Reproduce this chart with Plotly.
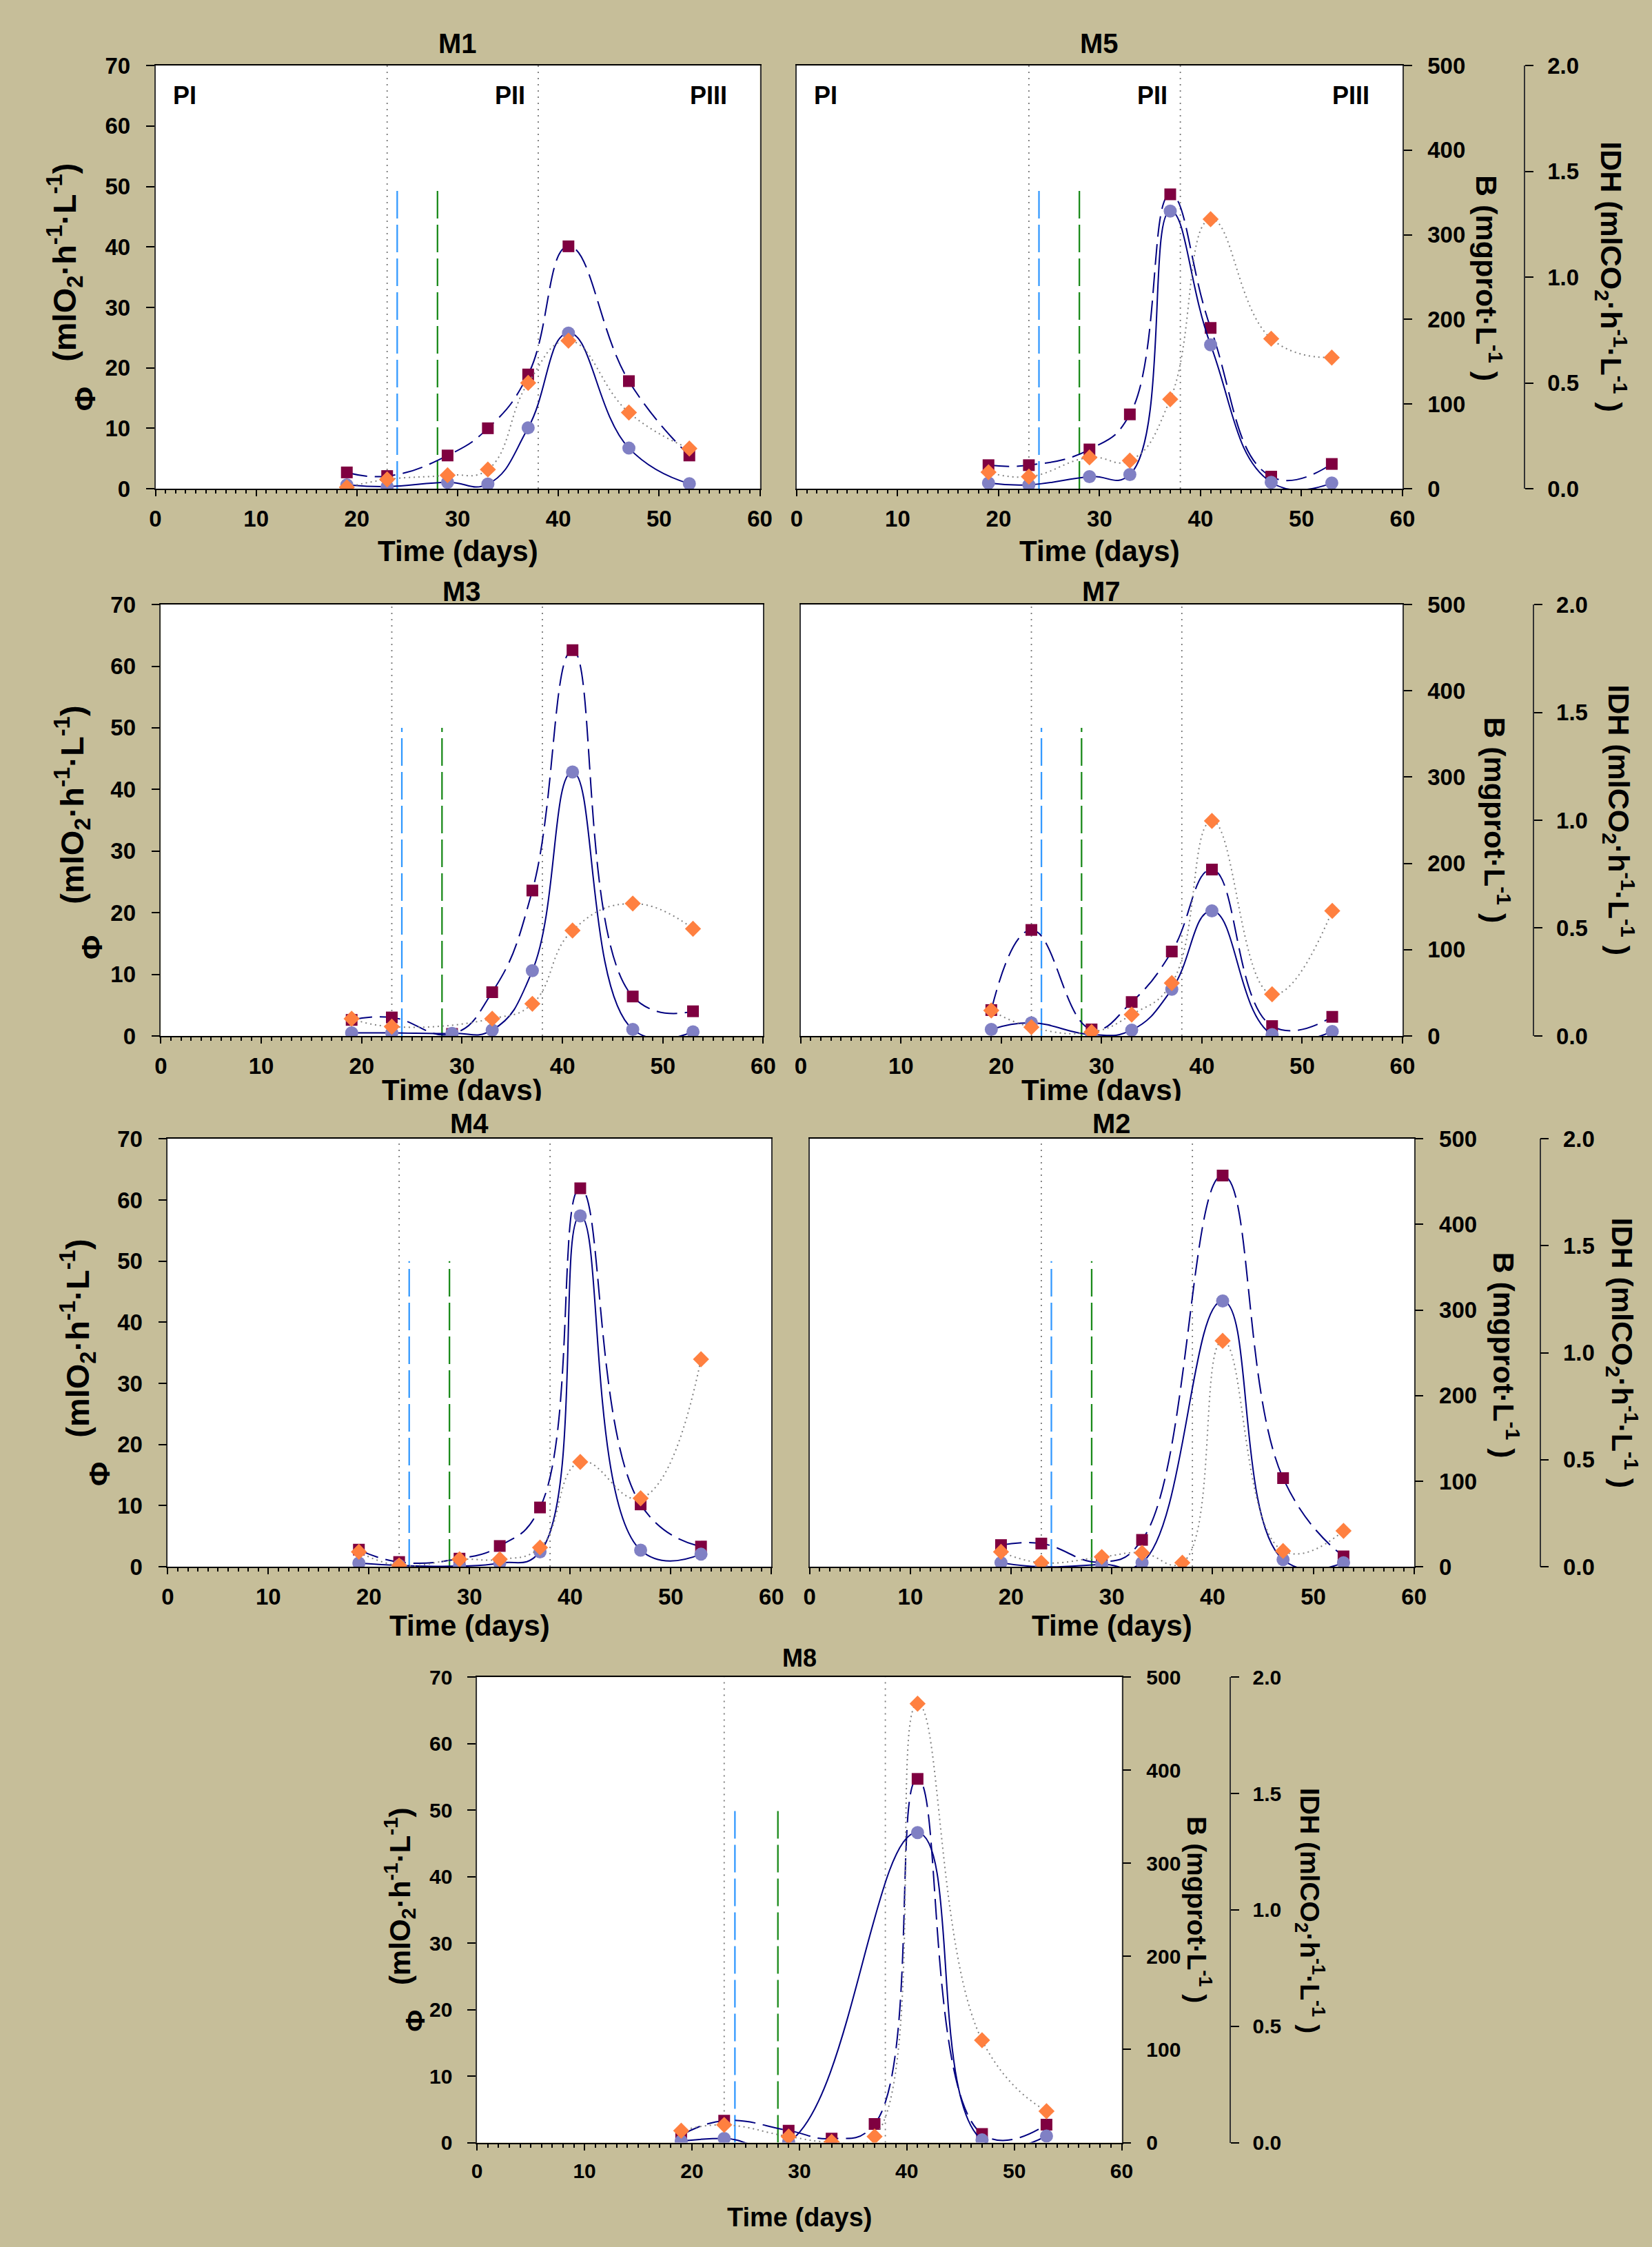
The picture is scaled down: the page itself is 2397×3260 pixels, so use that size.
import plotly.graph_objects as go

# ---------------- data ----------------
days = [19, 23, 29, 33, 37, 41, 47, 53]

M1_phi = [2.7, 2.1, 5.5, 10.0, 18.9, 40.1, 17.8, 5.5]
M1_B = [4.6, 2.5, 7.6, 5.5, 72, 184, 48, 5.9]
M1_IDH = [0.007, 0.044, 0.064, 0.091, 0.50, 0.70, 0.36, 0.19]

M5_phi = [3.9, 3.9, 6.5, 12.3, 48.7, 26.6, 2.0, 4.1]
M5_B = [6.7, 4.6, 14.3, 16.8, 328, 170, 7.6, 6.7]
M5_IDH = [0.078, 0.057, 0.148, 0.133, 0.423, 1.274, 0.709, 0.62]

M3_phi = [2.6, 3.0, 0.33, 7.1, 23.6, 62.6, 6.4, 4.0]
M3_B = [3.6, 3.6, 3.0, 6.8, 75.6, 306, 7.6, 4.8]
M3_IDH = [0.08, 0.043, None, 0.08, 0.149, 0.489, 0.614, 0.497]

M7_phi = [4.2, 17.2, 1.06, 5.5, 13.7, 27.0, 1.6, 3.1]
M7_B = [7.6, 15.1, 1.6, 6.8, 54.1, 144.9, 1.6, 5.2]
M7_IDH = [0.118, 0.041, 0.018, 0.099, 0.245, 0.997, 0.193, 0.58]

M4_phi = [2.8, 0.78, 1.33, 3.4, 9.7, 61.9, 10.2, 3.3]
M4_B = [4.3, 1.6, 0.8, 4.3, 17.4, 410, 19.4, 14.7]
M4_IDH = [0.07, 0.006, 0.035, 0.035, 0.09, 0.49, 0.32, 0.97]

M2_phi = [3.55, 3.8, 0.78, 4.4, None, 64.0, 14.5, 1.7]
M2_B = [4.8, 0.0, 2.8, 4.8, None, 310.6, 8.3, 4.8]
M2_IDH = [0.07, 0.019, 0.046, 0.065, 0.019, 1.056, 0.074, 0.168]

M8_phi = [1.1, 3.3, 1.8, 0.6, 2.8, 54.7, 1.3, 2.7]
M8_B = [1.6, 4.5, 0.7, None, None, 333, 2.9, 7.1]
M8_IDH = [0.051, 0.076, 0.026, 0.003, 0.026, 1.886, 0.44, 0.135]

phase_days = [23, 38]          # dotted phase boundaries
event_days = [24, 28]          # dashed event markers
event_top = 50
phase_labels = ["PI", "PII", "PIII"]
phase_label_x = [1.6, 35.2, 54.9]
phase_label_y = 65

x_ticks = [0, 10, 20, 30, 40, 50, 60]
phi_ticks = [0, 10, 20, 30, 40, 50, 60, 70]
B_ticks = [0, 100, 200, 300, 400, 500]
IDH_ticks = [0.0, 0.5, 1.0, 1.5, 2.0]

series = [
    ("M1", M1_phi, M1_B, M1_IDH),
    ("M5", M5_phi, M5_B, M5_IDH),
    ("M3", M3_phi, M3_B, M3_IDH),
    ("M7", M7_phi, M7_B, M7_IDH),
    ("M4", M4_phi, M4_B, M4_IDH),
    ("M2", M2_phi, M2_B, M2_IDH),
    ("M8", M8_phi, M8_B, M8_IDH),
]

# ---------------- layout geometry (pixels) ----------------
W, H = 2397, 3260
def fx(p): return p / W
def fy(p): return 1 - p / H

geom = {
    "M1": dict(box=(219, 78, 1106, 699), left=True, right=False, title_y=46, xt_y=790,
               unit=(86, 367), phi=(115, 567), phases=True, fs=1.0),
    "M5": dict(box=(1160, 78, 2049, 699), left=False, right=True, title_y=46, xt_y=790,
               idh_x=2228, Blab=(2176, 390), IDHlab=(2356, 388), phases=True, fs=1.0),
    "M3": dict(box=(227, 869, 1111, 1502), left=True, right=False, title_y=850, xt_y=1581,
               unit=(97, 1163), phi=(126, 1372), fs=1.0),
    "M7": dict(box=(1166, 869, 2049, 1502), left=False, right=True, title_y=850, xt_y=1581,
               idh_x=2241, Blab=(2188, 1185), IDHlab=(2367, 1185), fs=1.0),
    "M4": dict(box=(237, 1653, 1123, 2281), left=True, right=False, title_y=1631, xt_y=2367,
               unit=(105, 1946), phi=(136, 2145), fs=1.0),
    "M2": dict(box=(1179, 1653, 2066, 2281), left=False, right=True, title_y=1631, xt_y=2367,
               idh_x=2251, Blab=(2201, 1970), IDHlab=(2372, 1967), fs=1.0),
    "M8": dict(box=(691, 2443, 1637, 3126), left=True, right=True, title_y=2415, xt_y=3236,
               unit=(577, 2765), phi=(600, 2947), idh_x=1796, Blab=(1751, 2784),
               IDHlab=(1913, 2786), fs=0.9),
}
row2_clip_top, row2_clip_h = 1597, 15   # the original crops the 2nd-row axis titles here

BG = "#C6BE99"
FONT = "Liberation Sans, Arial, sans-serif"
NAVY = "#000080"

fig = go.Figure()
layout = dict(width=W, height=H, margin=dict(l=0, r=0, t=0, b=0),
              paper_bgcolor=BG, plot_bgcolor="white", showlegend=False,
              font=dict(family=FONT, color="black"))
shapes, annotations = [], []

def yid(m): return "y" if m == 1 else f"y{m}"
def ykey(m): return "yaxis" if m == 1 else f"yaxis{m}"

for k, (name, phi, B, idh) in enumerate(series):
    g = geom[name]
    s = g["fs"]
    tickf = dict(family=FONT, size=round(33 * s), color="black", weight="bold")
    labf = dict(family=FONT, size=round(43 * s), color="black")
    unitf = dict(family=FONT, size=round(47 * s), color="black")
    x0, y0, x1, y1 = g["box"]
    n = k + 1
    xs = "" if n == 1 else str(n)
    xid = "x" + xs
    a1, a2, a3 = 3 * k + 1, 3 * k + 2, 3 * k + 3

    layout["xaxis" + xs] = dict(
        domain=[fx(x0), fx(x1)], range=[0, 60], anchor=yid(a1),
        tickmode="array", tickvals=x_ticks, ticks="outside", ticklen=9, tickwidth=2,
        tickcolor="black",
        minor=dict(tickmode="linear", tick0=0, dtick=1, ticks="outside", ticklen=5,
                   tickwidth=1.5, tickcolor="black"),
        showline=True, linecolor="black", linewidth=2, mirror=True,
        showgrid=False, zeroline=False, tickfont=tickf, ticklabelstandoff=4)
    layout[ykey(a1)] = dict(
        domain=[fy(y1), fy(y0)], range=[0, 70], anchor=xid,
        tickmode="array", tickvals=phi_ticks,
        ticks="outside" if g["left"] else "", ticklen=12, tickwidth=2, tickcolor="black",
        showticklabels=g["left"], showline=True, linecolor="#333333", linewidth=1.5,
        mirror=True, showgrid=False, zeroline=False, tickfont=tickf, ticklabelstandoff=16)
    layout[ykey(a2)] = dict(
        domain=[fy(y1), fy(y0)], range=[0, 500], overlaying=yid(a1), side="right",
        anchor=xid, visible=g["right"], tickmode="array", tickvals=B_ticks,
        ticks="outside", ticklen=12, tickwidth=2, tickcolor="black",
        showline=True, linecolor="#333333", linewidth=1.5, showgrid=False, zeroline=False,
        tickfont=tickf, ticklabelstandoff=16)
    layout[ykey(a3)] = dict(
        domain=[fy(y1), fy(y0)], range=[0, 2], overlaying=yid(a1), side="right",
        anchor="free", position=fx(g.get("idh_x", x1 + 180)), visible=g["right"],
        tickmode="array", tickvals=IDH_ticks, tickformat=".1f",
        ticks="outside", ticklen=12, tickwidth=2, tickcolor="black",
        showline=True, linecolor="#333333", linewidth=1.5, showgrid=False, zeroline=False,
        tickfont=tickf, ticklabelstandoff=14)

    # traces
    fig.add_trace(go.Scatter(
        x=days, y=phi, xaxis=xid, yaxis=yid(a1), mode="lines+markers", connectgaps=True,
        line=dict(color=NAVY, width=2, dash="30px,11px", shape="spline", smoothing=1.3),
        marker=dict(symbol="square", size=17, color="#7F0040")))
    fig.add_trace(go.Scatter(
        x=days, y=B, xaxis=xid, yaxis=yid(a2), mode="lines+markers", connectgaps=True,
        line=dict(color=NAVY, width=2, shape="spline", smoothing=1.3),
        marker=dict(symbol="circle", size=19, color="#8080C4")))
    fig.add_trace(go.Scatter(
        x=days, y=idh, xaxis=xid, yaxis=yid(a3), mode="lines+markers", connectgaps=True,
        line=dict(color="#808080", width=2, dash="2px,5px", shape="spline", smoothing=1.3),
        marker=dict(symbol="diamond", size=18, color="#FF8040")))

    # reference lines
    for d in phase_days:
        shapes.append(dict(type="line", xref=xid, yref=yid(a1), x0=d, x1=d, y0=0, y1=70,
                           line=dict(color="#777777", width=1.8, dash="2px,7px"), layer="below"))
    for d, c in zip(event_days, ["#3399FF", "#1A8A1A"]):
        shapes.append(dict(type="line", xref=xid, yref=yid(a1), x0=d, x1=d, y0=0, y1=event_top,
                           line=dict(color=c, width=2.3, dash="40px,9px"), layer="below"))

    # title
    annotations.append(dict(text=f"<b>{name}</b>", xref="paper", yref="paper",
                            x=fx((x0 + x1) / 2), y=fy(g["title_y"]), xanchor="center",
                            yanchor="middle", showarrow=False,
                            font=dict(family=FONT, size=round(40 * s))))
    # x title
    annotations.append(dict(text="<b>Time (days)</b>", xref="paper", yref="paper",
                            x=fx((x0 + x1) / 2), y=fy(g["xt_y"]), xanchor="center",
                            yanchor="middle", showarrow=False,
                            font=dict(family=FONT, size=round(42 * s))))
    if g["left"]:
        ux, uy = g["unit"]
        annotations.append(dict(text="<b>(mlO<sub>2</sub>·h<sup>-1</sup>·L<sup>-1</sup>)</b>",
                                xref="paper", yref="paper", x=fx(ux), y=fy(uy),
                                xanchor="center", yanchor="middle", textangle=-90,
                                showarrow=False, font=unitf))
        px_, py_ = g["phi"]
        annotations.append(dict(text="<b>Φ</b>", xref="paper", yref="paper", x=fx(px_), y=fy(py_),
                                xanchor="center", yanchor="middle", textangle=-90,
                                showarrow=False, font=labf))
    if g["right"]:
        bx, by = g["Blab"]
        annotations.append(dict(text="<b>B (mgprot·L<sup>-1</sup> )</b>", xref="paper", yref="paper",
                                x=fx(bx), y=fy(by), xanchor="center", yanchor="middle",
                                textangle=90, showarrow=False, font=labf))
        ix, iy = g["IDHlab"]
        annotations.append(dict(text="<b>IDH (mlCO<sub>2</sub>·h<sup>-1</sup>·L<sup>-1</sup> )</b>",
                                xref="paper", yref="paper", x=fx(ix), y=fy(iy),
                                xanchor="center", yanchor="middle", textangle=90,
                                showarrow=False, font=labf))
    if g.get("phases"):
        for lab, lx in zip(phase_labels, phase_label_x):
            annotations.append(dict(text=f"<b>{lab}</b>", xref=xid, yref=yid(a1), x=lx,
                                    y=phase_label_y, xanchor="left" if lab == "PI" else "center",
                                    yanchor="middle", showarrow=False,
                                    font=dict(family=FONT, size=36)))

# band that crops the bottom of the second-row axis titles, as in the original
annotations.append(dict(text=" ", xref="paper", yref="paper", x=0.5, y=fy(row2_clip_top),
                        xanchor="center", yanchor="top", width=W, height=row2_clip_h,
                        bgcolor=BG, borderpad=0, borderwidth=0, showarrow=False,
                        font=dict(size=2)))

layout["shapes"] = shapes
layout["annotations"] = annotations
fig.update_layout(**layout)
fig.write_html("out.html")
